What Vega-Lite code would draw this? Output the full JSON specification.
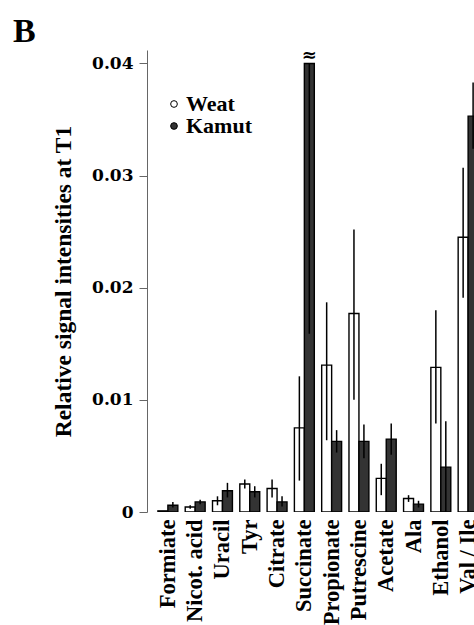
{
  "$schema": "https://vega.github.io/schema/vega-lite/v6.json",
  "width": 327,
  "height": 462,
  "autosize": {"type": "none"},
  "padding": {"left": 147, "top": 50, "right": 0, "bottom": 113},
  "background": "white",
  "config": {"font": "DejaVu Serif", "view": {"stroke": null}},
  "title": {"text": "B", "anchor": "start", "frame": "group", "fontSize": 34, "fontWeight": "bold", "font": "Liberation Serif", "color": "black", "dx": -134, "dy": 37, "offset": 8, "baseline": "alphabetic"},
  "data": {"values": [
    {"cat": "Formiate", "grp": "Weat", "v": 0.0001, "lo": 0.0001, "hi": 0.0001},
    {"cat": "Formiate", "grp": "Kamut", "v": 0.0006, "lo": 0.0004, "hi": 0.0009},
    {"cat": "Nicot. acid", "grp": "Weat", "v": 0.00045, "lo": 0.0003, "hi": 0.0006},
    {"cat": "Nicot. acid", "grp": "Kamut", "v": 0.0009, "lo": 0.0007, "hi": 0.0011},
    {"cat": "Uracil", "grp": "Weat", "v": 0.001, "lo": 0.0006, "hi": 0.0014},
    {"cat": "Uracil", "grp": "Kamut", "v": 0.0019, "lo": 0.0013, "hi": 0.0026},
    {"cat": "Tyr", "grp": "Weat", "v": 0.0025, "lo": 0.0021, "hi": 0.0029},
    {"cat": "Tyr", "grp": "Kamut", "v": 0.0018, "lo": 0.0013, "hi": 0.0023},
    {"cat": "Citrate", "grp": "Weat", "v": 0.0021, "lo": 0.0013, "hi": 0.0029},
    {"cat": "Citrate", "grp": "Kamut", "v": 0.0009, "lo": 0.0005, "hi": 0.0014},
    {"cat": "Succinate", "grp": "Weat", "v": 0.0075, "lo": 0.0028, "hi": 0.0121},
    {"cat": "Succinate", "grp": "Kamut", "v": 0.04, "lo": 0.0159, "hi": 0.04, "brk": "≈"},
    {"cat": "Propionate", "grp": "Weat", "v": 0.0131, "lo": 0.0064, "hi": 0.0187},
    {"cat": "Propionate", "grp": "Kamut", "v": 0.0063, "lo": 0.0053, "hi": 0.0073},
    {"cat": "Putrescine", "grp": "Weat", "v": 0.0177, "lo": 0.01, "hi": 0.0252},
    {"cat": "Putrescine", "grp": "Kamut", "v": 0.0063, "lo": 0.0048, "hi": 0.0078},
    {"cat": "Acetate", "grp": "Weat", "v": 0.003, "lo": 0.0015, "hi": 0.0043},
    {"cat": "Acetate", "grp": "Kamut", "v": 0.0065, "lo": 0.0051, "hi": 0.0079},
    {"cat": "Ala", "grp": "Weat", "v": 0.0012, "lo": 0.0009, "hi": 0.0015},
    {"cat": "Ala", "grp": "Kamut", "v": 0.0007, "lo": 0.0004, "hi": 0.001},
    {"cat": "Ethanol", "grp": "Weat", "v": 0.0129, "lo": 0.0079, "hi": 0.018},
    {"cat": "Ethanol", "grp": "Kamut", "v": 0.004, "lo": 0.0, "hi": 0.0081},
    {"cat": "Val / Ile", "grp": "Weat", "v": 0.0245, "lo": 0.0191, "hi": 0.0307},
    {"cat": "Val / Ile", "grp": "Kamut", "v": 0.0353, "lo": 0.0324, "hi": 0.0383}
  ]},
  "encoding": {
    "x": {"field": "cat", "type": "nominal", "sort": null,
      "scale": {"range": [0, 342], "paddingInner": 0.27, "paddingOuter": 0.4},
      "axis": {"title": null, "labelAngle": -90, "domain": false, "ticks": false, "labelPadding": 7, "labelFontSize": 22.5, "labelFontWeight": "bold", "labelColor": "black", "labelFont": "Liberation Serif", "labelOverlap": false}},
    "xOffset": {"field": "grp", "type": "nominal", "sort": ["Weat", "Kamut"], "scale": {"paddingInner": 0, "paddingOuter": 0}}
  },
  "layer": [
    {
      "mark": {"type": "bar", "stroke": "black", "strokeWidth": 1.4, "clip": true},
      "encoding": {
        "y": {"field": "v", "type": "quantitative",
          "scale": {"domain": [0, 0.0412], "nice": false},
          "axis": {"title": "Relative signal intensities at T1", "values": [0, 0.01, 0.02, 0.03, 0.04], "format": "~g", "grid": false,
            "domainColor": "#666", "tickColor": "#666", "tickSize": 8, "labelPadding": 6,
            "labelFontSize": 17, "labelFontWeight": "bold", "labelColor": "black", "labelFont": "DejaVu Serif",
            "titleFontSize": 23.5, "titleFontWeight": "bold", "titleColor": "black", "titleFont": "Liberation Serif", "titlePadding": 16}},
        "fill": {"field": "grp", "type": "nominal", "sort": ["Weat", "Kamut"],
          "scale": {"domain": ["Weat", "Kamut"], "range": ["white", "#333333"]},
          "legend": {"title": null, "orient": "none", "legendX": 16, "legendY": 43, "symbolType": "circle", "symbolSize": 45,
            "symbolStrokeColor": "black", "symbolStrokeWidth": 1, "labelFontSize": 22, "labelFontWeight": "bold", "labelColor": "black",
            "labelFont": "Liberation Serif", "rowPadding": 0, "labelOffset": 1}}
      }
    },
    {
      "mark": {"type": "rule", "color": "black", "strokeWidth": 1.5, "clip": true},
      "encoding": {
        "y": {"field": "lo", "type": "quantitative"},
        "y2": {"field": "hi"}
      }
    },
    {
      "transform": [{"filter": "datum.brk"}],
      "mark": {"type": "text", "fontSize": 18, "fontWeight": "bold", "baseline": "middle", "dy": -7, "color": "black"},
      "encoding": {
        "y": {"field": "v", "type": "quantitative"},
        "text": {"field": "brk"}
      }
    }
  ]
}
